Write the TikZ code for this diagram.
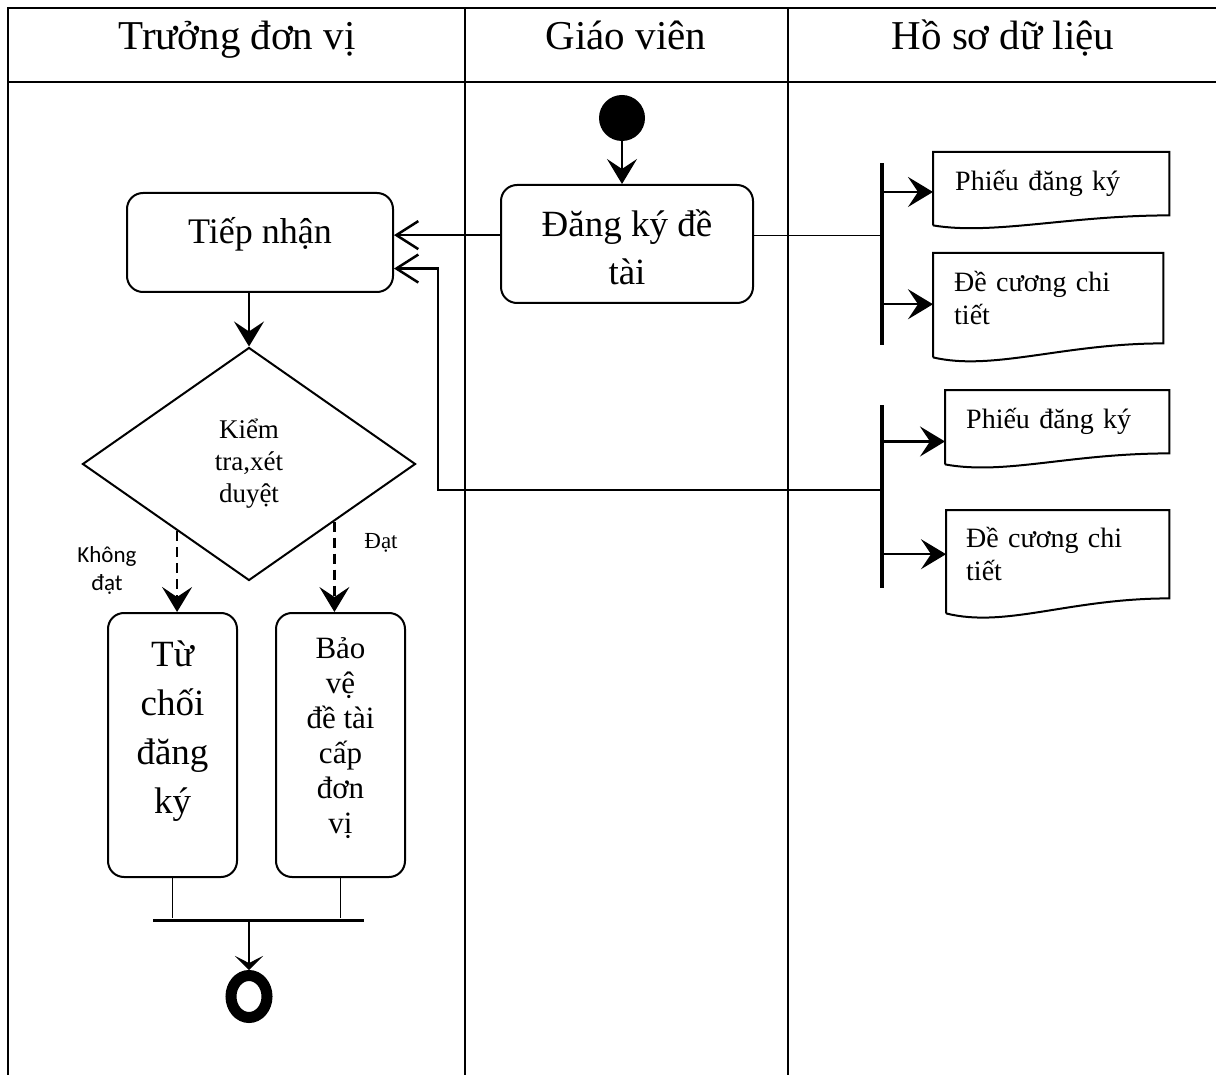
\documentclass[tikz,border=0pt]{standalone}
\usepackage{fontspec}
\setmainfont{Liberation Serif}
\newfontfamily\calfont{Carlito}
\usetikzlibrary{calc}
\usetikzlibrary{shapes}
\usetikzlibrary{arrows.meta}
\newcommand{\fsz}[2]{\fontsize{#1}{#2}\selectfont}
\newcommand{\docshape}[2]{\draw[line width=2pt] ( $ (#1.south west) + (0,#2) $ ) -- (#1.north west) -- (#1.north east) -- (#1.south east) .. controls +(-100,0) and +(60,#2) .. ( $ (#1.south west) + (0,#2) $ );}
\newcommand{\barnode}[4]{\node[bar, minimum width=#3, minimum height=#4] (#1) at #2 {};}

\begin{document}
\begin{tikzpicture}[x=1pt, y=-1pt,
        frame/.style={line width=2.5pt},
        act/.style={draw, line width=2pt, rounded corners=16pt, align=center, inner ysep=0pt},
        docnode/.style={anchor=north west, align=left, inner ysep=0pt, font=\fsz{28}{33}},
        bar/.style={fill=black, draw=none, inner sep=0pt},
        arr/.style={line width=2.5pt, -{Stealth[length=25pt,width=30pt,inset=10pt]}},
        oarr/.style={line width=2.5pt, -{Straight Barb[length=22pt,width=28pt]}},
        hd/.style={anchor=base, font=\fsz{41}{49}}]
        \useasboundingbox (0,0) rectangle (1216,1075);
        \draw[frame] (8,1075) -- (8,8) -- (1216,8);
        \draw[frame] (8,82) -- (1216,82);
        \draw[frame] (465,8) -- (465,1075);
        \draw[frame] (788,8) -- (788,1075);
        \node[hd] (h1) at (237,50) {Trưởng đơn vị};
        \node[hd] (h2) at (626,50) {Giáo viên};
        \node[hd] (h3) at (1003,50) {Hồ sơ dữ liệu};
        % giao vien
        \node[circle, fill=black, minimum size=46pt, inner sep=0pt] (bd) at (622,118) {};
        \node[act, minimum width=252pt, text height=100pt, text depth=18pt, font=\fsz{37}{48}] (dk) at (627,244) {Đăng ký đề\\tài};
        % truong don vi
        \node[act, minimum width=266pt, text height=51pt, text depth=48pt, font=\fsz{36}{44}] (tn) at (260,242.5) {Tiếp nhận};
        \node[diamond, draw, line width=2pt, minimum width=333pt, minimum height=233pt, inner sep=0pt, align=center, font=\fsz{27}{32}] (kt) at (249,464) {Kiểm\\tra,xét\\duyệt};
        \node[act, minimum width=129pt, text height=200pt, text depth=64pt, font=\fsz{37}{49}] (tc) at (172.5,745) {Từ\\chối\\đăng\\ký};
        \node[act, minimum width=129pt, text height=220pt, text depth=44pt, font=\fsz{31}{35}] (bv) at (340.5,745) {Bảo\\vệ\\đề tài\\cấp\\đơn\\vị};
        \node[anchor=base, align=center, font=\calfont\fsz{23}{28}] (lk) at (107,590) {Không\\đạt};
        \node[anchor=base, font=\fsz{23}{28}] (ld) at (381,548) {Đạt};
        \barnode{jn}{(258,920)}{211pt}{3pt}
        \node[ellipse, draw, line width=11pt, minimum width=36pt, minimum height=42pt, inner sep=0pt] (fin) at (249,996.5) {};
        % ho so du lieu
        \barnode{b1}{(882,254)}{3.5pt}{182pt}
        \barnode{b2}{(882,496.5)}{3.5pt}{183pt}
        \node[docnode, minimum height=63pt, inner xsep=22pt, text width=192pt] (d1) at (933,152) {Phiếu đăng ký};
        \docshape{d1}{10}
        \node[docnode, minimum height=90pt, inner xsep=21pt, text width=188pt] (d2) at (933,253) {Đề cương chi\\tiết};
        \docshape{d2}{14}
        \node[docnode, minimum height=63pt, inner xsep=21pt, text width=182pt] (d3) at (945,390) {Phiếu đăng ký};
        \docshape{d3}{11}
        \node[docnode, minimum height=88pt, inner xsep=20pt, text width=183pt] (d4) at (946,510) {Đề cương chi\\tiết};
        \docshape{d4}{15}
        \coordinate (j2) at (438,490);
        \draw[arr] (bd.south) -- (bd.south |- dk.north);
        \draw[oarr] (dk.176) -- (dk.176 -| tn.east);
        \draw[line width=1pt] (dk.4) -- (dk.4 -| b1.center);
        \draw[arr] (d1.184 -| b1.center) -- (d1.184);
        \draw[arr] (d2.183 -| b1.center) -- (d2.183);
        \draw[arr] (d3.190 -| b2.center) -- (d3.190);
        \draw[arr] (d4.west -| b2.center) -- (d4.west);
        \draw[oarr] (b2.center |- j2) -- (j2) |- (tn.-11);
        \draw[arr] (kt.north |- tn.south) -- (kt.north);
        \draw[arr, dash pattern=on 10pt off 6pt] (kt.223) -- (kt.223 |- tc.north);
        \draw[arr, dash pattern=on 10pt off 6pt] (kt.326) -- (kt.326 |- bv.north);
        \draw[line width=1pt] (tc.south) -- (tc.south |- jn.north);
        \draw[line width=1pt] (bv.south) -- (bv.south |- jn.north);
        \draw[line width=2.5pt, -{Stealth[length=14pt,width=28pt,inset=7pt]}] (jn.south -| fin.north) -- (fin.north);
    \end{tikzpicture}
\end{document}
